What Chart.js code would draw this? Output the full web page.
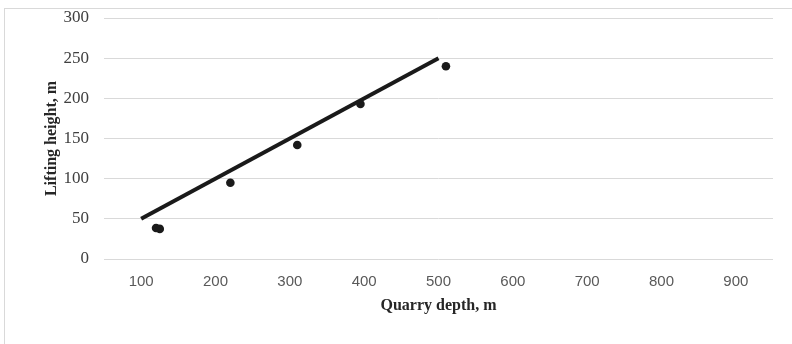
<!DOCTYPE html>
<html>
<head>
<meta charset="utf-8">
<script src="https://cdn.jsdelivr.net/npm/chart.js@4"></script>
<style>
  body { margin: 0; background: #fff; }
  #wrap { position: relative; width: 792px; height: 344px; overflow: hidden; }
  #frame { position: absolute; left: 4px; top: 8px; width: 900px; height: 400px; border: 1px solid #d9d9d9; }
  #box { position: absolute; left: 0; top: 0; width: 792px; height: 344px; }
</style>
</head>
<body>
<div id="wrap">
  <div id="frame"></div>
  <div id="box"><canvas id="myChart"></canvas></div>
</div>
<script>
// measured points: quarry depth (m) vs lifting height (m)
var depth = [120, 125, 220, 310, 395, 510];
var lift = [38.5, 37.5, 95, 142, 193, 240];

// trend line end points
var lineX = [100, 500];
var lineY = [50, 250];

var xTicks = [100, 200, 300, 400, 500, 600, 700, 800, 900];
var yTicks = [0, 50, 100, 150, 200, 250, 300];

var pts = depth.map(function (d, i) { return { x: d, y: lift[i] }; });
var trend = lineX.map(function (d, i) { return { x: d, y: lineY[i] }; });

const ctx = document.getElementById('myChart');

new Chart(ctx, {
  type: 'scatter',
  data: {
    datasets: [
      {
        label: 'Trend',
        data: trend,
        showLine: true,
        borderColor: '#1a1a1a',
        borderWidth: 4,
        pointRadius: 0,
        borderCapStyle: 'butt'
      },
      {
        label: 'Measured',
        data: pts,
        backgroundColor: '#1a1a1a',
        borderColor: '#1a1a1a',
        borderWidth: 0,
        pointRadius: 4.3
      }
    ]
  },
  options: {
    responsive: true,
    maintainAspectRatio: false,
    animation: false,
    layout: { padding: { left: 0, right: 19, top: 18, bottom: 0 } },
    plugins: {
      legend: { display: false },
      tooltip: { enabled: false }
    },
    scales: {
      x: {
        type: 'linear',
        min: 50,
        max: 950,
        afterBuildTicks: function (axis) {
          axis.ticks = xTicks.map(function (v) { return { value: v }; });
        },
        afterFit: function (axis) { axis.height = 85; },
        grid: { display: false, drawTicks: false },
        border: { display: false },
        ticks: {
          padding: 14,
          color: '#595959',
          font: { family: 'Liberation Sans', size: 15 }
        },
        title: {
          display: true,
          text: 'Quarry depth, m',
          color: '#262626',
          font: { family: 'Liberation Serif', size: 16, weight: 'bold' },
          padding: { top: 0, bottom: 29 }
        }
      },
      y: {
        min: 0,
        max: 300,
        afterBuildTicks: function (axis) {
          axis.ticks = yTicks.map(function (v) { return { value: v }; });
        },
        afterFit: function (axis) {
          axis.width = 104;
          // tick padding would otherwise push the plot area down
          axis.paddingTop = 0;
          axis.paddingBottom = 0;
        },
        grid: { color: '#d9d9d9', lineWidth: 1, drawTicks: false },
        border: { display: false },
        ticks: {
          padding: 15,
          color: '#404040',
          font: { family: 'Liberation Serif', size: 17 }
        },
        title: {
          display: true,
          text: 'Lifting height, m',
          color: '#262626',
          font: { family: 'Liberation Serif', size: 16, weight: 'bold' },
          padding: { top: 42, bottom: 0 }
        }
      }
    }
  }
});
</script>
</body>
</html>
